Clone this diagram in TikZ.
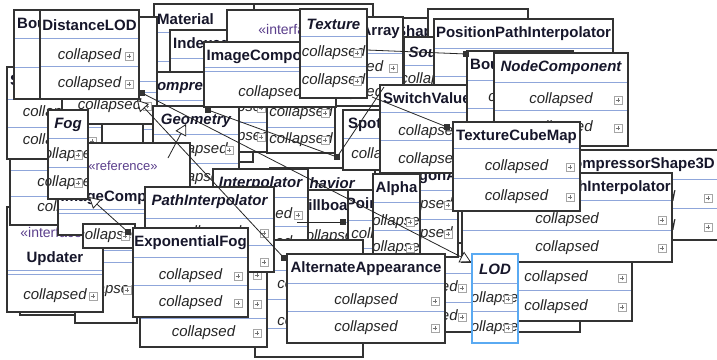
\documentclass[tikz,border=0pt]{standalone}
\usepackage{fontspec}
\setmainfont{Liberation Sans}
\usetikzlibrary{arrows.meta,calc}

\definecolor{edgegray}{HTML}{333333}
\definecolor{divblue}{HTML}{8FA6DA}
\definecolor{ttlink}{HTML}{16162A}
\definecolor{stereoink}{HTML}{5B3F8C}
\definecolor{lodblue}{HTML}{5AAAF2}

\tikzset{
  cbox/.style={draw=edgegray, fill=white, line width=1.2pt, inner sep=0pt, outer sep=0pt},
  divline/.style={draw=divblue, line width=0.9pt},
  ttl/.style={font=\fontsize{15}{15}\selectfont\bfseries, text=ttlink, inner sep=0pt},
  rowtxt/.style={font=\fontsize{15}{15}\selectfont\itshape, text=black!85, inner sep=0pt},
  stereotxt/.style={font=\fontsize{14}{14}\selectfont, text=stereoink, inner sep=0pt},
  plusbox/.style={draw=black!35, fill=white, minimum size=8pt, inner sep=0pt, line width=0.6pt,
    path picture={\draw[black!55, line width=0.7pt]
      ([xshift=-2.3pt]path picture bounding box.center) -- ([xshift=2.3pt]path picture bounding box.center)
      ([yshift=-2.3pt]path picture bounding box.center) -- ([yshift=2.3pt]path picture bounding box.center);}},
  sq/.style={fill=black!80, draw=black!80, minimum size=5pt, inner sep=0pt, outer sep=0pt},
  conn/.style={draw=black!85, line width=0.8pt},
  gen/.style={conn, -{Triangle[fill=white, length=11pt, width=12pt]}},
}

% \umlc{name}{x}{y}{w}{h}{title}{divider offsets}{row offsets}{title align l/c/r}
% a list given as "-" draws nothing
\def\umlnone{-}
\newcommand{\umlc}[9]{%
  \node[cbox, minimum width=#4pt, minimum height=#5pt, anchor=north west] (#1) at (#2,#3) {};
  \begin{scope}
    \clip (#2,#3) rectangle ++(#4,#5);
    \def\umldivs{#7}\def\umlrows{#8}%
    \ifx\umldivs\umlnone\else
      \foreach \dv in {#7} {\draw[divline] (#2,#3+\dv) -- ++(#4,0);}
    \fi
    \ifx\umlrows\umlnone\else
      \foreach \ofs [count=\k] in {#8} {%
        \node[rowtxt] (#1-r\k) at (#2+#4/2,#3+\ofs) {collapsed};
        \node[plusbox] (#1-p\k) at (#2+#4-10,#3+\ofs) {};}
    \fi
    \if l#9\node[ttl, anchor=west] (#1-t) at (#2+3,#3+15) {#6};
    \else\if r#9\node[ttl, anchor=east] (#1-t) at (#2+#4-3,#3+15) {#6};
    \else\node[ttl] (#1-t) at (#2+#4/2,#3+15) {#6};\fi\fi
  \end{scope}
  \draw[edgegray, line width=1.2pt] (#1.north west) rectangle (#1.south east);
}

\begin{document}
\begin{tikzpicture}[x=1pt,y=-1pt]
\fill[white] (0,0) rectangle (717,359);
\useasboundingbox (0,0) rectangle (717,359);

% ---- back row along the top
\umlc{bk}{240}{4}{133}{100}{}{28,57}{-}{c}
\umlc{mat}{154}{4}{100}{100}{Material}{28,57}{-}{l}
\umlc{iface}{227}{10}{132}{95}{}{44,70}{-}{c}
\node[stereotxt] (iface-s) at (293,29) {«interface»};
\umlc{idx}{170}{30}{57}{75}{IndexedGeometryArray}{28,57}{-}{l}
\umlc{shp}{393}{18}{70}{80}{Shape3D}{28,57}{-}{l}
\umlc{arr}{300}{17}{103}{89}{TriangleArray}{36,60}{51,76}{r}

% ---- left column
\umlc{u3}{20}{215}{55}{100}{}{-}{-}{c}
\umlc{u2}{75}{232}{62}{91}{}{18,30}{58}{c}
\umlc{upd}{7}{207}{96}{105}{}{63,67}{89}{c}
\node[stereotxt] (upd-s) at (55,232) {«interface»};
\node[ttl] (upd-t) at (55,259) {Updater};
\umlc{l2}{10}{150}{118}{75}{}{20,46}{33,58}{c}
\umlc{l1}{7}{67}{95}{92}{SharedGroup}{32,60}{46,74}{l}
\umlc{bouL}{14}{10}{100}{89}{BoundingLeaf}{28,57}{-}{l}
\umlc{cgeo}{143}{72}{110}{90}{\itshape CompressedGeometry}{28,57}{-}{l}
\umlc{b1}{62}{17}{95}{107}{}{64,75}{89}{c}
\umlc{g3}{205}{64}{66}{88}{}{29,58}{44,73}{c}
\umlc{geo}{153}{106}{86}{89}{\itshape Geometry}{28,57}{44,72}{c}
\umlc{g2}{267}{70}{68}{83}{}{28,57}{43,70}{c}
\umlc{imgc}{204}{42}{132}{65}{ImageComponent}{25,29}{51}{c}
\umlc{tex}{300}{9}{67}{89}{\itshape Texture}{27,57}{44,72}{c}
\umlc{ref}{58}{143}{132}{92}{}{66,70}{-}{c}
\node[stereotxt, font=\fontsize{13}{13}\selectfont] (ref-s) at (123,166) {«reference»};
\node[ttl] (ref-t) at (124,198) {ImageComponent};
\umlc{x1}{83}{224}{52}{24}{}{-}{12}{c}
\umlc{fog}{48}{110}{40}{89}{\itshape Fog}{28,57}{45,73}{c}
\umlc{dlod}{40}{10}{99}{89}{DistanceLOD}{28,56}{46,74}{c}

% ---- middle
\umlc{beh}{270}{168}{105}{100}{\itshape Behavior}{28,57}{-}{c}
\umlc{spot}{343}{110}{80}{60}{SpotLight}{28}{45}{c}
\umlc{bill}{290}{190}{80}{89}{Billboard}{32,60}{47,75}{c}
\umlc{poi}{348}{190}{70}{89}{PointLight}{30,58}{45,74}{c}
\umlc{m3}{420}{243}{160}{89}{}{30,59}{-}{c}
\umlc{m1}{380}{243}{92}{89}{}{30,59}{45,74}{c}
\umlc{gona}{384}{162}{74}{95}{PolygonAttributes}{28,57}{43,72}{l}

% ---- right
\umlc{p2}{428}{9}{100}{60}{}{28,57}{-}{c}
\umlc{sou}{404}{37}{56}{89}{\itshape Sound}{28,57}{43,72}{c}
\umlc{ppi}{434}{19}{179}{89}{PositionPathInterpolator}{29,57}{44,72}{c}
\umlc{swv}{380}{85}{100}{88}{SwitchValueInterpolator}{27,55}{47,75}{l}
\umlc{alpha}{373}{174}{47}{90}{Alpha}{28,56}{48,74}{c}
\umlc{bouR}{467}{51}{106}{89}{BoundingLeaf}{29,57}{47,75}{l}
\umlc{nodec}{494}{53}{134}{93}{\itshape NodeComponent}{29,57}{47,75}{c}
\umlc{cs3d}{569}{150}{149}{90}{CompressorShape3D}{29,58}{48,77}{r}
\umlc{m2}{480}{233}{152}{88}{}{28,57}{45,74}{c}
\umlc{hint}{462}{173}{210}{89}{RotPosScalePathInterpolator}{27,57}{47,75}{c}
\umlc{tcm}{453}{122}{127}{89}{TextureCubeMap}{26,56}{45,75}{c}

% ---- lower middle
\umlc{interp}{213}{169}{95}{91}{\itshape Interpolator}{28,57}{46,74}{c}
\umlc{eb3}{255}{240}{108}{117}{}{30,59,88}{45,82}{c}
\umlc{eb1}{140}{229}{127}{118}{}{29,60,89}{46,75,104}{c}
\umlc{pinterp}{145}{187}{129}{85}{\itshape PathInterpolator}{31,58}{46,75}{c}
\umlc{efog}{133}{228}{115}{89}{ExponentialFog}{29,57}{48,75}{c}
\umlc{aa}{287}{254}{158}{89}{AlternateAppearance}{29,57}{47,74}{c}
\umlc{lod}{472}{254}{46}{89}{\itshape LOD}{29,57}{45,74}{c}
\draw[lodblue, line width=1.2pt] (lod.north west) rectangle (lod.south east);

% ---- connectors
\node[sq] (s1) at (142,93) {};
\coordinate (t1) at (471,262);
\draw[gen] (s1) -- (t1);

\node[sq] (s2) at (284,258) {};
\coordinate (t2) at (137,100);
\draw[gen] (s2) -- (t2);

\node[sq] (s3) at (128,232) {};
\coordinate (t3) at (89,197);
\draw[gen] (s3) -- (t3);

\node[sq] (s4) at (208,110) {};
\node[sq] (s5) at (337,157) {};
\draw[conn] (s4) -- (s5);
\coordinate (e5) at (384,87);
\draw[conn] (s5) -- (e5);

\coordinate (e6) at (372,97);
\node[sq] (s6) at (447,127) {};
\draw[conn] (e6) -- (s6);

\coordinate (e7) at (367,50);
\node[sq] (s7) at (466,54) {};
\draw[conn] (e7) -- (s7);

\coordinate (e8) at (168,158);
\coordinate (t8) at (186,124);
\draw[gen] (e8) -- (t8);

\coordinate (e9) at (297,222);
\node[sq] (s9) at (343,222) {};
\draw[conn] (e9) -- (s9);
\end{tikzpicture}
\end{document}
